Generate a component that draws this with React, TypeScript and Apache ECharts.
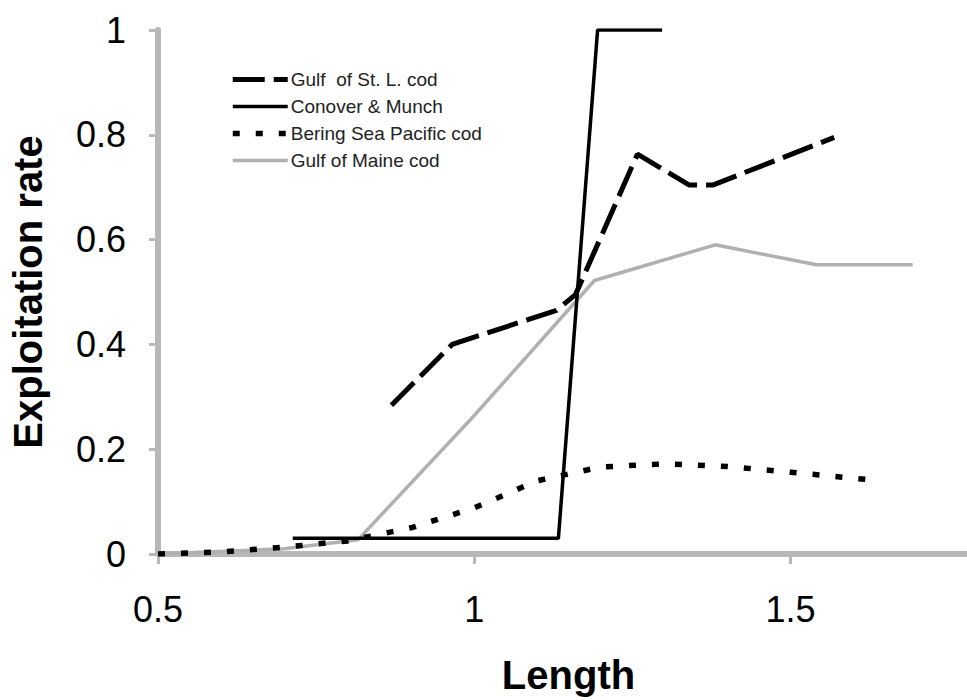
import React, { useEffect, useRef } from "react";
import * as echarts from "echarts";

const FONT = '"Liberation Sans", Arial, Helvetica, sans-serif';

const seriesNames = [
  "Gulf  of St. L. cod",
  "Conover & Munch",
  "Bering Sea Pacific cod",
  "Gulf of Maine cod",
];

const xTickValues = [0.5, 1, 1.5];

const gulfStL: number[][] = [
  [0.869, 0.284],
  [0.965, 0.4],
  [1.13, 0.465],
  [1.16, 0.495],
  [1.258, 0.763],
  [1.34, 0.704],
  [1.377, 0.704],
  [1.569, 0.795],
];

const conover: number[][] = [
  [0.713, 0.03],
  [1.133, 0.03],
  [1.195, 1],
  [1.297, 1],
];

const bering: number[][] = [
  [0.5, 0],
  [0.6, 0.004],
  [0.7, 0.013],
  [0.8, 0.025],
  [0.9, 0.05],
  [1.0, 0.088],
  [1.1, 0.14],
  [1.2, 0.166],
  [1.3, 0.172],
  [1.4, 0.167],
  [1.5, 0.156],
  [1.632, 0.141],
];

const gulfMaine: number[][] = [
  [0.5, 0],
  [0.7, 0.01],
  [0.816, 0.027],
  [0.996, 0.259],
  [1.19, 0.522],
  [1.381, 0.59],
  [1.541, 0.552],
  [1.693, 0.552],
];

const AXIS_GRAY = "#b8b8b8";
const TICK_COLOR = "#b8b8b8";

export default function App() {
  const ref = useRef<HTMLDivElement>(null);
  useEffect(() => {
    if (!ref.current) return;
    const chart = echarts.init(ref.current, null, { renderer: "svg" });
    chart.setOption({
      animation: false,
      backgroundColor: "#ffffff",
      grid: { left: 152, right: 0, top: 30, bottom: 144, containLabel: false },
      legend: {
        orient: "vertical",
        left: 225,
        top: 65,
        itemWidth: 55,
        itemHeight: 14,
        itemGap: 8,
        data: seriesNames,
        textStyle: { fontSize: 19, color: "#222", fontFamily: FONT, padding: [0, 0, 0, -2] },
        lineStyle: { width: "inherit" },
        itemStyle: { opacity: 0 },
        selectedMode: false,
      },
      xAxis: {
        type: "value",
        min: 0.5,
        max: 1.779,
        interval: 0.5,
        name: "Length",
        nameLocation: "middle",
        nameGap: 101,
        nameTextStyle: {
          fontSize: 40,
          fontWeight: "bold",
          color: "#000",
          fontFamily: FONT,
          padding: [0, 0, 0, 12],
        },
        splitLine: { show: false },
        axisLine: { show: true, lineStyle: { color: AXIS_GRAY, width: 6, cap: "round" } },
        axisTick: {
          show: true,
          inside: false,
          length: 10,
          customValues: xTickValues,
          lineStyle: { color: TICK_COLOR, width: 3 },
        },
        axisLabel: {
          customValues: xTickValues,
          fontSize: 36,
          color: "#000",
          fontFamily: FONT,
          margin: 37,
          formatter: (v: number) => String(v),
        },
      },
      yAxis: {
        type: "value",
        min: 0,
        max: 1,
        interval: 0.2,
        name: "Exploitation rate",
        nameLocation: "middle",
        nameGap: 110,
        nameTextStyle: {
          fontSize: 40,
          fontWeight: "bold",
          color: "#000",
          fontFamily: FONT,
        },
        splitLine: { show: false },
        axisLine: { show: true, lineStyle: { color: AXIS_GRAY, width: 6, cap: "round" } },
        axisTick: { show: true, inside: false, length: 9, lineStyle: { color: TICK_COLOR, width: 3 } },
        axisLabel: {
          fontSize: 36,
          color: "#000",
          fontFamily: FONT,
          margin: 32,
          formatter: (v: number) => String(Math.round(v * 10) / 10),
        },
      },
      series: [
        {
          name: seriesNames[0],
          type: "line",
          data: gulfStL,
          symbol: "none",
          z: 4,
          lineStyle: { color: "#000", width: 5, type: [32, 9], cap: "butt" },
        },
        {
          name: seriesNames[1],
          type: "line",
          data: conover,
          symbol: "none",
          z: 5,
          lineStyle: { color: "#000", width: 3.5, type: "solid" },
        },
        {
          name: seriesNames[2],
          type: "line",
          data: bering,
          symbol: "none",
          z: 3,
          lineStyle: { color: "#000", width: 5.5, type: [7, 16], cap: "butt" },
        },
        {
          name: seriesNames[3],
          type: "line",
          data: gulfMaine,
          symbol: "none",
          z: 2,
          lineStyle: { color: "#b0b0b0", width: 3.5, type: "solid" },
        },
      ],
    });
    return () => chart.dispose();
  }, []);
  return (
    <div
      ref={ref}
      style={{ position: "fixed", left: 0, top: 0, width: 967, height: 700 }}
    />
  );
}
